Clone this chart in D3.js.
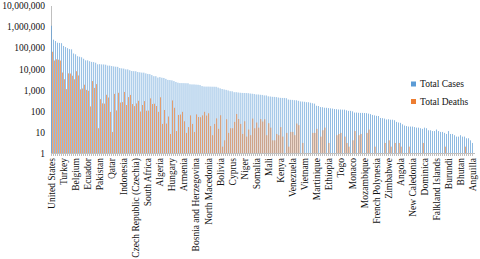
<!DOCTYPE html>
<meta charset="utf-8">
<style>
body {
  margin: 0;
  background: #fff;
}
text {
  font-family: "Liberation Serif", "Times New Roman", serif;
  font-size: 9.5px;
  fill: #111;
}
.axis path, .axis line {
  stroke: #bfbfbf;
  shape-rendering: crispEdges;
}
</style>
<body>
<script src="https://cdn.jsdelivr.net/npm/d3@7"></script>
<script>
// countries ordered by total cases, 6 per row (first of each row gets a label)
var countries = [
  "United States", "Spain", "Italy", "United Kingdom", "France", "Germany",
  "Turkey", "Russia", "Iran", "Brazil", "China", "Canada",
  "Belgium", "Netherlands", "Peru", "India", "Switzerland", "Portugal",
  "Ecuador", "Saudi Arabia", "Sweden", "Ireland", "Mexico", "Singapore",
  "Pakistan", "Chile", "Israel", "Austria", "Japan", "Belarus",
  "Qatar", "Poland", "United Arab Emirates", "Romania", "S. Korea", "Ukraine",
  "Indonesia", "Serbia", "Denmark", "Philippines", "Norway", "Bangladesh",
  "Czech Republic (Czechia)", "Dominican Republic", "Australia", "Panama", "Colombia", "Malaysia",
  "South Africa", "Egypt", "Finland", "Argentina", "Morocco", "Luxembourg",
  "Algeria", "Kuwait", "Moldova", "Kazakhstan", "Thailand", "Bahrain",
  "Hungary", "Greece", "Oman", "Afghanistan", "Croatia", "Iraq",
  "Armenia", "Uzbekistan", "Ghana", "Cameroon", "Azerbaijan", "Iceland",
  "Bosnia and Herzegovina", "Nigeria", "Estonia", "Cuba", "Slovenia", "Bulgaria",
  "North Macedonia", "New Zealand", "Guinea", "Slovakia", "Lithuania", "Ivory Coast",
  "Bolivia", "Djibouti", "Hong Kong", "Tunisia", "Senegal", "Latvia",
  "Cyprus", "Albania", "Honduras", "Andorra", "Lebanon", "Kyrgyzstan",
  "Niger", "Costa Rica", "Diamond Princess", "Sri Lanka", "Burkina Faso", "Uruguay",
  "Somalia", "Guatemala", "San Marino", "DRC", "Channel Islands", "Georgia",
  "Mali", "Tanzania", "Malta", "Mayotte", "Jordan", "Jamaica",
  "Kenya", "Taiwan", "Réunion", "El Salvador", "Palestine", "Mauritius",
  "Venezuela", "Montenegro", "Sudan", "Isle of Man", "Maldives", "Gabon",
  "Vietnam", "Equatorial Guinea", "Guinea-Bissau", "Rwanda", "Paraguay", "Congo",
  "Martinique", "Faeroe Islands", "Myanmar", "Guadeloupe", "Liberia", "Gibraltar",
  "Ethiopia", "Brunei", "Madagascar", "Cambodia", "Sierra Leone", "Trinidad and Tobago",
  "Togo", "Cabo Verde", "Bermuda", "Zambia", "Aruba", "Eswatini",
  "Monaco", "Bahamas", "Uganda", "Barbados", "Haiti", "Liechtenstein",
  "Mozambique", "Guyana", "Sint Maarten", "Cayman Islands", "Benin", "Libya",
  "French Polynesia", "Nepal", "Chad", "Macao", "Syria", "Eritrea",
  "Zimbabwe", "Saint Martin", "Mongolia", "Malawi", "Timor-Leste", "Antigua and Barbuda",
  "Angola", "Botswana", "Grenada", "Laos", "Belize", "Fiji",
  "New Caledonia", "Saint Lucia", "Curaçao", "Namibia", "Saint Kitts and Nevis", "Nicaragua",
  "Dominica", "St. Vincent Grenadines", "Gambia", "Greenland", "Seychelles", "Turks and Caicos",
  "Falkland Islands", "Montserrat", "Suriname", "Vatican City", "MS Zaandam", "Mauritania",
  "Burundi", "Papua New Guinea", "British Virgin Islands", "Sao Tome and Principe", "Western Sahara", "Caribbean Netherlands",
  "Bhutan", "St. Barth", "Yemen", "Tajikistan", "Comoros", "Saint Pierre Miquelon",
  "Anguilla"
];

var totalCases = [
  1095000, 239600, 205500, 171250, 167200, 163000,
  120200, 106500, 94640, 85380, 82860, 52860,
  48520, 39320, 36980, 34860, 29710, 24990,
  24930, 22750, 21090, 20610, 19220, 16170,
  16470, 16020, 15950, 15500, 14090, 14030,
  13410, 12880, 12480, 12240, 10770, 10410,
  10120, 9360, 9310, 8490, 7780, 7670,
  7580, 6970, 6760, 6530, 6500, 6000,
  5650, 5540, 4995, 4430, 4420, 3800,
  4000, 3740, 3640, 3300, 2950, 2900,
  2800, 2590, 2350, 2170, 2085, 2080,
  2070, 2050, 2040, 1830, 1800, 1797,
  1760, 1730, 1670, 1500, 1430, 1420,
  1420, 1410, 1400, 1396, 1385, 1275,
  1170, 1090, 1037, 990, 930, 860,
  850, 770, 770, 745, 725, 710,
  705, 700, 690, 665, 650, 630,
  600, 600, 580, 570, 540, 540,
  490, 480, 465, 460, 450, 430,
  415, 410, 410, 400, 345, 335,
  331, 321, 318, 300, 280, 276,
  270, 258, 257, 243, 230, 220,
  175, 170, 151, 149, 141, 140,
  135, 132, 128, 122, 120, 116,
  116, 114, 114, 106, 100, 100,
  95, 83, 83, 81, 80, 80,
  79, 78, 74, 70, 64, 61,
  58, 57, 46, 45, 43, 39,
  40, 38, 38, 36, 30, 28,
  27, 23, 20, 19, 18, 18,
  18, 17, 16, 16, 15, 14,
  16, 15, 12, 12, 11, 11,
  13, 11, 10, 10, 9, 8,
  11, 8, 8, 7, 6, 6,
  7, 6, 6, 5, 5, 4,
  3
];

var totalDeaths = [
  63800, 24500, 27970, 26770, 24380, 6600,
  3170, 1073, 6030, 5900, 4633, 3150,
  7590, 4800, 1050, 1150, 1740, 990,
  900, 162, 2590, 1230, 1860, 15,
  360, 227, 220, 580, 430, 89,
  10, 640, 105, 720, 247, 260,
  790, 190, 450, 570, 210, 168,
  225, 300, 93, 190, 290, 102,
  103, 392, 211, 218, 170, 90,
  440, 24, 110, 25, 54, 8,
  312, 140, 11, 64, 67, 90,
  32, 9, 17, 61, 24, 10,
  68, 51, 50, 61, 90, 60,
  77, 19, 7, 24, 44, 14,
  62, 2, 4, 40, 9, 15,
  15, 30, 71, 41, 24, 8,
  32, 6, 13, 7, 43, 15,
  28, 16, 41, 31, 40, 7,
  26, 16, 4, 4, 8, 7,
  17, 6, 0, 9, 2, 10,
  10, 7, 25, 21, 1, 3,
  0, 1, 1, 0, 9, 9,
  14, 0, 6, 12, 16, 0,
  3, 1, 0, 0, 7, 8,
  9, 1, 6, 3, 2, 1,
  4, 11, 0, 7, 8, 1,
  0, 9, 13, 1, 1, 2,
  0, 0, 0, 0, 3, 0,
  4, 2, 0, 3, 0, 3,
  2, 1, 0, 0, 2, 0,
  0, 0, 1, 0, 0, 3,
  0, 0, 1, 0, 0, 1,
  0, 1, 1, 0, 2, 1,
  1, 0, 1, 0, 0, 0,
  0, 0, 2, 0, 0, 0,
  0
];

var yTicks = [1, 10, 100, 1000, 10000, 100000, 1000000, 10000000];
var seriesNames = ["Total Cases", "Total Deaths"];
var colors = ["#5b9bd5", "#ed7d31"];

var width = 480, height = 259;

var svg = d3.select("body").append("svg")
    .attr("width", width)
    .attr("height", height);

var x = d3.scaleBand()
    .domain(countries)
    .range([51, 474])
    .padding(0);

var y = d3.scaleLog()
    .domain([1, 10000000])
    .range([153, 5.5]);

var bw = x.bandwidth();
var barW = bw * 0.34;

// y axis
var yAxis = d3.axisLeft(y)
    .tickValues(yTicks)
    .tickFormat(d3.format(","))
    .tickSize(0)
    .tickPadding(6);

var gy = svg.append("g")
    .attr("class", "axis")
    .attr("transform", "translate(51,0)")
    .call(yAxis);
gy.selectAll("text").attr("dy", "0.35em");

// bars
svg.append("g").selectAll("rect")
    .data(countries)
  .enter().append("rect")
    .attr("x", function(d) { return x(d) + bw / 2 - barW; })
    .attr("width", barW)
    .attr("y", function(d, i) { return y(totalCases[i]); })
    .attr("height", function(d, i) { return y(1) - y(totalCases[i]); })
    .attr("fill", colors[0]);

svg.append("g").selectAll("rect")
    .data(countries.filter(function(d, i) { return totalDeaths[i] > 1; }))
  .enter().append("rect")
    .attr("x", function(d) { return x(d) + bw / 2; })
    .attr("width", barW)
    .attr("y", function(d) { return y(totalDeaths[countries.indexOf(d)]); })
    .attr("height", function(d) { return y(1) - y(totalDeaths[countries.indexOf(d)]); })
    .attr("fill", colors[1]);

// x axis: tick on every category boundary, label every 6th
var xAxis = d3.axisBottom(x)
    .tickValues(countries.filter(function(d, i) { return i % 6 == 0; }))
    .tickSize(0)
    .tickPadding(0);

var gx = svg.append("g")
    .attr("class", "axis")
    .attr("transform", "translate(0,153)")
    .call(xAxis);

gx.selectAll("text")
    .attr("transform", "rotate(-90)")
    .attr("text-anchor", "end")
    .attr("x", -5)
    .attr("y", 0)
    .attr("dy", "0.33em");

gx.append("g").selectAll("line")
    .data(countries)
  .enter().append("line")
    .attr("x1", function(d) { return Math.round(x(d)) + 0.5; })
    .attr("x2", function(d) { return Math.round(x(d)) + 0.5; })
    .attr("y1", 0)
    .attr("y2", 3)
    .attr("stroke", "#d0d0d0");

// legend
var legend = svg.append("g").selectAll("g")
    .data(seriesNames)
  .enter().append("g")
    .attr("transform", function(d, i) { return "translate(411," + (81.5 + i * 17.5) + ")"; });

legend.append("rect")
    .attr("width", 5)
    .attr("height", 5)
    .attr("fill", function(d, i) { return colors[i]; });

legend.append("text")
    .attr("x", 9)
    .attr("y", 2.5)
    .attr("dy", "0.35em")
    .text(function(d) { return d; });
</script>
